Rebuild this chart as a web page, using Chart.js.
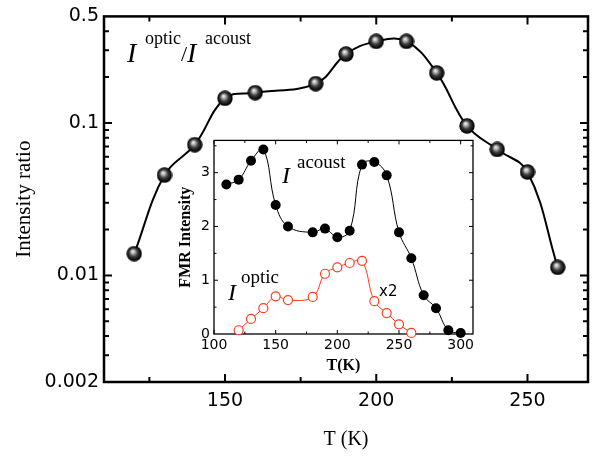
<!DOCTYPE html>
<html lang="en">
<head>
<meta charset="UTF-8">
<title>Intensity ratio vs T</title>
<script src="https://cdn.jsdelivr.net/npm/chart.js"></script>
<style>
  html, body { margin: 0; padding: 0; background: #fff; }
  #wrap { position: relative; width: 598px; height: 457px; }
  #main { position: absolute; left: 0; top: 0; }
  #inset { position: absolute; left: 170px; top: 128px; }
</style>
</head>
<body>
<div id="wrap">
  <canvas id="main" width="598" height="457"></canvas>
  <canvas id="inset" width="310" height="247"></canvas>
</div>
<script>
// main panel: I_optic / I_acoust (log scale)
const ratioT = [120, 130, 140, 150, 160, 180, 190, 200, 210, 220, 230, 240, 250, 260];
const ratio  = [0.0139, 0.0455, 0.072, 0.145, 0.158, 0.181, 0.283, 0.343, 0.343, 0.213, 0.0957, 0.067, 0.0477, 0.0113];
const mainYTicks = [0.002, 0.01, 0.1, 0.5];
const mainXTicks = [150, 200, 250];

// inset: FMR intensity
const acoustT = [110, 120, 130, 140, 150, 160, 180, 190, 200, 210, 220, 230, 240, 250, 260, 270, 280, 290, 300];
const acoust  = [2.78, 2.87, 3.22, 3.43, 2.4, 2.0, 1.89, 1.96, 1.8, 1.92, 3.15, 3.2, 2.95, 1.89, 1.41, 0.72, 0.48, 0.07, 0.02];
const opticT  = [120, 130, 140, 150, 160, 180, 190, 200, 210, 220, 230, 240, 250, 260];
const optic   = [0.07, 0.28, 0.48, 0.70, 0.63, 0.69, 1.12, 1.24, 1.32, 1.36, 0.61, 0.39, 0.18, 0.02];
const insetXTicks = [100, 150, 200, 250, 300];
const insetYTicks = [0, 1, 2, 3];

const sans = '"DejaVu Sans", Verdana, sans-serif';
const serif = '"Liberation Serif", "Times New Roman", serif';
Chart.defaults.font.family = sans;
Chart.defaults.color = '#000';

// shaded ball marker
function makeSphere(d) {
  const c = document.createElement('canvas');
  c.width = d; c.height = d;
  const g = c.getContext('2d');
  const r = d / 2;
  const grad = g.createRadialGradient(r * 0.8, r * 0.7, 0.3, r, r, r);
  grad.addColorStop(0, '#f4f4f4');
  grad.addColorStop(0.22, '#b0b0b0');
  grad.addColorStop(0.5, '#404040');
  grad.addColorStop(0.85, '#080808');
  grad.addColorStop(1, '#000');
  g.fillStyle = grad;
  g.beginPath();
  g.arc(r, r, r - 0.3, 0, Math.PI * 2);
  g.fill();
  return c;
}

function pts(xs, ys) { return xs.map((x, i) => ({ x: x, y: ys[i] })); }

// frame + inward ticks on all four sides
const frameTicks = {
  id: 'frameTicks',
  beforeDatasetsDraw(chart, args, o) {
    const { ctx, chartArea: a, scales } = chart;
    ctx.save();
    if (o.fill) {
      ctx.fillStyle = o.fill;
      ctx.fillRect(a.left, a.top, a.width, a.height);
    }
    ctx.strokeStyle = '#000';
    ctx.lineWidth = o.tickWidth;
    ctx.beginPath();
    const xs = (vals, len) => vals.forEach(v => {
      const px = scales.x.getPixelForValue(v);
      ctx.moveTo(px, a.bottom); ctx.lineTo(px, a.bottom - len);
      ctx.moveTo(px, a.top); ctx.lineTo(px, a.top + len);
    });
    const ys = (vals, len) => vals.forEach(v => {
      const py = scales.y.getPixelForValue(v);
      ctx.moveTo(a.left, py); ctx.lineTo(a.left + len, py);
      ctx.moveTo(a.right, py); ctx.lineTo(a.right - len, py);
    });
    xs(o.xMajor, o.major); xs(o.xMinor, o.minor);
    ys(o.yMajor, o.major); ys(o.yMinor, o.minor);
    ctx.stroke();
    ctx.lineWidth = o.frameWidth;
    ctx.strokeRect(a.left, a.top, a.width, a.height);
    ctx.restore();
  }
};

// free text labels
const textLabels = {
  id: 'textLabels',
  afterDraw(chart, args, o) {
    const ctx = chart.ctx;
    ctx.save();
    ctx.textBaseline = 'alphabetic';
    ctx.textAlign = 'left';
    o.items.forEach(it => {
      ctx.font = it.font;
      ctx.fillStyle = it.color || '#000';
      ctx.fillText(it.text, it.x, it.y);
    });
    ctx.restore();
  }
};

new Chart(document.getElementById('main'), {
  type: 'line',
  data: {
    datasets: [{
      data: pts(ratioT, ratio),
      borderColor: '#000',
      borderWidth: 2,
      tension: 0.4,
      pointStyle: makeSphere(16),
      pointRadius: 8,
      clip: false
    }]
  },
  options: {
    responsive: false,
    animation: false,
    layout: { padding: { left: 0, top: 11, right: 8, bottom: 0 } },
    plugins: {
      legend: { display: false },
      tooltip: { enabled: false },
      frameTicks: {
        xMajor: [150, 200, 250], xMinor: [125, 175, 225],
        yMajor: [0.01, 0.1],
        yMinor: [0.003, 0.004, 0.005, 0.006, 0.007, 0.008, 0.009,
                 0.02, 0.03, 0.04, 0.05, 0.06, 0.07, 0.08, 0.09,
                 0.2, 0.3, 0.4],
        major: 8, minor: 5, tickWidth: 2, frameWidth: 2.5
      },
      textLabels: {
        items: [
          { text: 'I', x: 127, y: 62, font: 'italic 28px ' + serif },
          { text: 'optic', x: 145, y: 44, font: '18px ' + serif },
          { text: '/', x: 181, y: 61, font: '22px ' + serif },
          { text: 'I', x: 187, y: 62, font: 'italic 28px ' + serif },
          { text: 'acoust', x: 205, y: 44, font: '18px ' + serif }
        ]
      }
    },
    scales: {
      x: {
        type: 'linear', min: 110, max: 270,
        grid: { display: false, drawTicks: false },
        border: { display: false },
        afterBuildTicks: s => { s.ticks = mainXTicks.map(v => ({ value: v })); },
        afterFit: s => { s.height = 75; },
        ticks: { padding: 8, font: { size: 19 }, callback: v => String(v) },
        title: { display: true, text: 'T (K)', font: { family: serif, size: 20 }, padding: { bottom: 5 } }
      },
      y: {
        type: 'logarithmic', min: 0.002, max: 0.5,
        grid: { display: false, drawTicks: false },
        border: { display: false },
        afterBuildTicks: s => { s.ticks = mainYTicks.map(v => ({ value: v })); },
        afterFit: s => { s.width = 104; },
        ticks: { padding: 5, font: { size: 19 }, callback: v => String(v) },
        title: { display: true, text: 'Intensity ratio', font: { family: serif, size: 21 }, padding: { top: 12 } }
      }
    }
  },
  plugins: [frameTicks, textLabels]
});

new Chart(document.getElementById('inset'), {
  type: 'line',
  data: {
    datasets: [{
      data: pts(acoustT, acoust),
      borderColor: '#000',
      borderWidth: 1,
      tension: 0.4,
      pointRadius: 5,
      pointBackgroundColor: '#000',
      pointBorderColor: '#000',
      pointBorderWidth: 0,
      clip: false
    }, {
      data: pts(opticT, optic),
      borderColor: '#ff3b1e',
      borderWidth: 1,
      tension: 0.4,
      pointRadius: 4.5,
      pointBackgroundColor: '#fff',
      pointBorderColor: '#ff3b1e',
      pointBorderWidth: 1.2,
      clip: false
    }]
  },
  options: {
    responsive: false,
    animation: false,
    layout: { padding: { left: 0, top: 8, right: 7, bottom: 0 } },
    plugins: {
      legend: { display: false },
      tooltip: { enabled: false },
      frameTicks: {
        fill: '#fff',
        xMajor: [100, 150, 200, 250, 300], xMinor: [125, 175, 225, 275],
        yMajor: [1, 2, 3], yMinor: [0.5, 1.5, 2.5, 3.5],
        major: 4, minor: 2.5, tickWidth: 1, frameWidth: 1.3
      },
      textLabels: {
        items: [
          { text: 'I', x: 112, y: 55, font: 'italic 24px ' + serif },
          { text: 'acoust', x: 127, y: 40, font: '19px ' + serif },
          { text: 'I', x: 58, y: 172, font: 'italic 24px ' + serif },
          { text: 'optic', x: 71, y: 155, font: '19px ' + serif },
          { text: 'x2', x: 209, y: 168, font: '15px ' + sans }
        ]
      }
    },
    scales: {
      x: {
        type: 'linear', min: 100, max: 310,
        grid: { display: false, drawTicks: false },
        border: { display: false },
        afterBuildTicks: s => { s.ticks = insetXTicks.map(v => ({ value: v })); },
        afterFit: s => { s.height = 41; },
        ticks: { padding: 3, font: { size: 14 }, callback: v => String(v) },
        title: { display: true, text: 'T(K)', font: { family: serif, size: 16, weight: 'bold' }, padding: { bottom: 0 } }
      },
      y: {
        type: 'linear', min: 0, max: 3.6,
        grid: { display: false, drawTicks: false },
        border: { display: false },
        afterBuildTicks: s => { s.ticks = insetYTicks.map(v => ({ value: v })); },
        afterFit: s => { s.width = 44; },
        ticks: { padding: 4, font: { size: 14 }, callback: v => String(v) },
        title: { display: true, text: 'FMR Intensity', font: { family: serif, size: 16, weight: 'bold' }, padding: { top: 6 } }
      }
    }
  },
  plugins: [frameTicks, textLabels]
});
</script>
</body>
</html>
